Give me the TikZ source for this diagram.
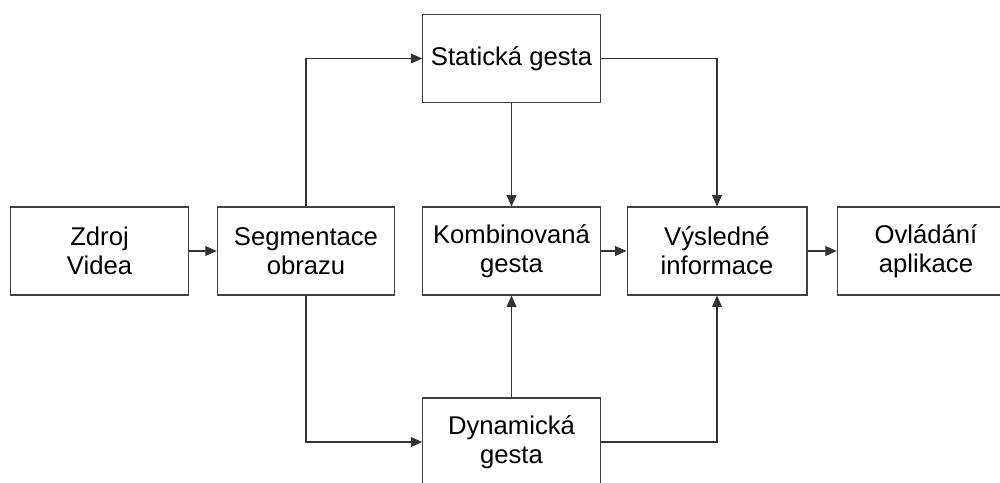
\documentclass[tikz,border=0pt]{standalone}
\usepackage{fontspec}
\setmainfont{Liberation Sans}
\usetikzlibrary{arrows.meta}
\begin{document}
\begin{tikzpicture}[
    x=0.02cm, y=-0.02cm,
    box/.style={draw=black!75, line width=0.6pt, rectangle, align=center,
        minimum width=3.55cm, minimum height=1.76cm,
        font=\fontsize{14.6}{16.5}\selectfont},
    flow/.style={draw=black!80, line width=0.6pt, -{Triangle[length=6.5pt,width=5.6pt]}}
]
    \useasboundingbox (0,0) rectangle (1000,483);

    % Input and segmentation
    \node[box] (zdroj) at (99.5,251) {Zdroj\\Videa};
    \node[box] (segm) at (306,251) {Segmentace\\obrazu};

    % Gesture boxes
    \node[box] (stat) at (511.5,58.5) {Statická gesta};
    \node[box] (komb) at (511.5,251) {Kombinovaná\\gesta};
    \node[box] (dyn) at (511.5,442) {Dynamická\\gesta};

    % Output boxes
    \node[box, minimum width=3.6cm] (vysl) at (717,251) {Výsledné\\informace};
    \node[box] (ovl) at (926,251) {Ovládání\\aplikace};

    % Main flow
    \draw[flow] (zdroj) -- (segm);
    \draw[flow] (segm.north) |- (stat.west);
    \draw[flow] (segm.south) |- (dyn.west);

    % Into the combined gestures
    \draw[flow] (stat.south) -- (komb.north);
    \draw[flow] (dyn.north) -- (komb.south);

    % Into the results
    \draw[flow] (komb) -- (vysl);
    \draw[flow] (stat.east) -| (vysl.north);
    \draw[flow] (dyn.east) -| (vysl.south);
    \draw[flow] (vysl) -- (ovl);

\end{tikzpicture}
\end{document}
